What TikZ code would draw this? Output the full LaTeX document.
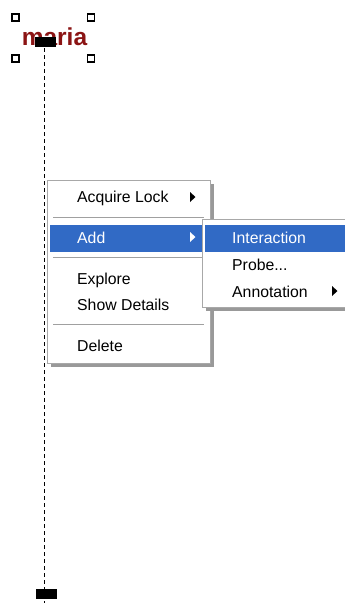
\documentclass[tikz,border=0pt]{standalone}
\usepackage{fontspec}
\setmainfont{Liberation Sans}
\definecolor{maroonname}{HTML}{8B1414}
\definecolor{selblue}{HTML}{316AC5}
\definecolor{menuborder}{HTML}{A8A8A8}
\definecolor{sepgray}{HTML}{A0A0A0}
\tikzset{
  handle/.style={draw=black, fill=white, line width=1.1pt, minimum size=7pt, inner sep=0pt},
  lifebar/.style={fill=black, draw=none, minimum width=21pt, minimum height=10pt, inner sep=0pt},
  menupanel/.style={fill=white, draw=menuborder, line width=1pt},
  menushadow/.style={fill=black!40, draw=none},
  menuitem/.style={anchor=base west, inner sep=0pt, font=\fontsize{15.8}{18}\selectfont},
  sepline/.style={draw=sepgray, line width=1pt},
  subarrow/.style={fill=black, draw=none},
}
\begin{document}
\begin{tikzpicture}[x=1pt,y=-1pt]
\useasboundingbox (0,0) rectangle (345,603);
\fill[white] (0,0) rectangle (345,603);

% lifeline
\coordinate (lifetop) at (44.5,48);
\coordinate (lifebot) at (44.5,603);
\draw[black, line width=1.3pt, dash pattern=on 4pt off 3pt] (lifetop) -- (lifebot);

% object name with selection handles
\node[anchor=base, inner sep=0pt, text=maroonname, font=\bfseries\fontsize{24.5}{27}\selectfont] (name) at (54.5,45) {maria};
\node[handle] (h1) at (15.5,17.5) {};
\node[handle] (h2) at (91,17.5) {};
\node[handle] (h3) at (15.5,58.5) {};
\node[handle] (h4) at (91,58.5) {};
\node[lifebar] (topbar) at (45.5,42) {};
\node[lifebar] (botbar) at (46,594) {};

% main context menu
\fill[menushadow] (51,184) rectangle (214,367);
\draw[menupanel] (47,180) rectangle (210,363);
\fill[selblue] (50,224.5) rectangle (207,251.5);
\draw[sepline] (53,217) -- (204,217);
\draw[sepline] (53,257) -- (204,257);
\draw[sepline] (53,324) -- (204,324);
\node[menuitem] (acq) at (77,202) {Acquire Lock};
\node[menuitem, text=white] (add) at (77,243) {Add};
\node[menuitem] (expl) at (77,284) {Explore};
\node[menuitem] (show) at (77,310) {Show Details};
\node[menuitem] (del) at (77,351) {Delete};
\fill[subarrow] (190,192) -- (195.5,197) -- (190,202) -- cycle;
\fill[white] (190,232) -- (195.5,237) -- (190,242) -- cycle;

% submenu
\fill[menushadow] (206,223) rectangle (352,311);
\draw[menupanel] (202,219) rectangle (350,307);
\fill[selblue] (205,224.5) rectangle (350,251.5);
\node[menuitem, text=white] (inter) at (232,243) {Interaction};
\node[menuitem] (probe) at (232,270) {Probe...};
\node[menuitem] (annot) at (232,297) {Annotation};
\fill[subarrow] (332,286) -- (337.5,291) -- (332,296) -- cycle;
\end{tikzpicture}
\end{document}
